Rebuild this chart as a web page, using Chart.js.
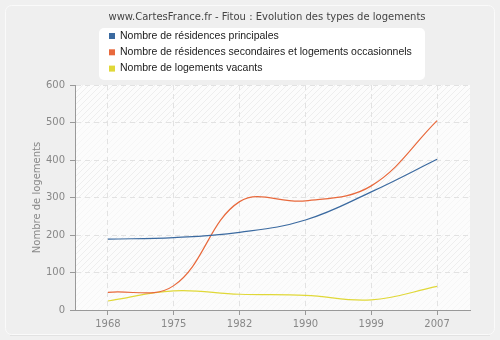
<!DOCTYPE html>
<html lang="fr">
<head>
<meta charset="UTF-8">
<title>Fitou : Evolution des types de logements</title>
<script src="https://cdn.jsdelivr.net/npm/chart.js"></script>
<style>
    html, body { margin: 0; padding: 0; background: #f0f0f0; }
    #graph { display: block; }
</style>
</head>
<body>
<canvas id="graph" width="500" height="340"></canvas>
<script>
    const annees = ['1968', '1975', '1982', '1990', '1999', '2007'];
    const principales = [189, 193, 207, 240, 315, 402];
    const secondaires = [47, 65, 289, 291, 331, 505];
    const vacants = [24, 51, 42, 39, 27, 63];
    const series = [
        'Nombre de résidences principales',
        'Nombre de résidences secondaires et logements occasionnels',
        'Nombre de logements vacants'
    ];
    const couleurs = ['#3b6aa0', '#e8693c', '#e0d838'];
    const titre = 'www.CartesFrance.fr - Fitou : Evolution des types de logements';

    const police = '"DejaVu Sans", Verdana, sans-serif';
    const policeLegende = '"Liberation Sans", Arial, sans-serif';

    function roundRect(ctx, x, y, w, h, r) {
        ctx.beginPath();
        ctx.moveTo(x + r, y);
        ctx.arcTo(x + w, y, x + w, y + h, r);
        ctx.arcTo(x + w, y + h, x, y + h, r);
        ctx.arcTo(x, y + h, x, y, r);
        ctx.arcTo(x, y, x + w, y, r);
        ctx.closePath();
    }

    // motif hachuré du fond de la zone de tracé
    function hachures(ctx) {
        const c = document.createElement('canvas');
        c.width = 6; c.height = 6;
        const g = c.getContext('2d');
        g.fillStyle = '#fcfcfc';
        g.fillRect(0, 0, 6, 6);
        g.strokeStyle = '#eeeeee';
        g.lineWidth = 1;
        g.beginPath();
        g.moveTo(-1, 7); g.lineTo(7, -1);
        g.moveTo(-1, 1); g.lineTo(1, -1);
        g.moveTo(5, 7); g.lineTo(7, 5);
        g.stroke();
        return ctx.createPattern(c, 'repeat');
    }

    const fond = {
        id: 'fond',
        beforeDraw(chart) {
            const ctx = chart.ctx;
            const a = chart.chartArea;
            const y = chart.scales.y;
            ctx.save();
            ctx.fillStyle = '#f0f0f0';
            ctx.fillRect(0, 0, chart.width, chart.height);
            // cadre arrondi
            roundRect(ctx, 5.5, 5.5, 489, 329, 6);
            ctx.fillStyle = '#efefef';
            ctx.fill();
            ctx.strokeStyle = '#fafafa';
            ctx.lineWidth = 1;
            ctx.stroke();
            ctx.beginPath();
            ctx.moveTo(10, 335.5); ctx.lineTo(490, 335.5);
            ctx.strokeStyle = '#e2e2e2';
            ctx.stroke();
            // zone de tracé : bandes hachurées / unies
            ctx.fillStyle = hachures(ctx);
            ctx.fillRect(a.left, a.top, a.right - a.left, a.bottom - a.top);
            ctx.fillStyle = 'rgba(252,252,252,0.6)';
            for (let v = 0; v < 600; v += 200) {
                const y0 = y.getPixelForValue(v + 100);
                const y1 = y.getPixelForValue(v);
                ctx.fillRect(a.left, y0, a.right - a.left, y1 - y0);
            }
            ctx.restore();
        },
        afterDraw(chart) {
            const ctx = chart.ctx;
            ctx.save();
            ctx.font = '10px ' + police;
            ctx.textBaseline = 'middle';
            ctx.fillStyle = '#444';
            ctx.textAlign = 'center';
            ctx.fillText(titre, 267, 17);
            // légende
            roundRect(ctx, 99, 28, 326, 52, 5);
            ctx.fillStyle = '#ffffff';
            ctx.fill();
            ctx.textAlign = 'left';
            ctx.font = '10.5px ' + policeLegende;
            series.forEach((nom, i) => {
                const yc = 36 + i * 16.3;
                ctx.fillStyle = couleurs[i];
                ctx.fillRect(109, yc - 3, 6, 6);
                ctx.fillStyle = '#1a1a1a';
                ctx.fillText(nom, 120, yc);
            });
            ctx.restore();
        }
    };

    const donnees = [principales, secondaires, vacants];
    const tensions = [0.4, 0.38, 0.4];

    new Chart(document.getElementById('graph'), {
        type: 'line',
        data: {
            labels: annees,
            datasets: series.map((nom, i) => ({
                label: nom,
                data: donnees[i],
                borderColor: couleurs[i],
                backgroundColor: couleurs[i],
                borderWidth: 1.2,
                pointRadius: 0,
                tension: tensions[i],
                fill: false
            }))
        },
        options: {
            responsive: false,
            animation: false,
            layout: { padding: { top: 85, left: 31, right: 30, bottom: 0 } },
            plugins: {
                legend: { display: false },
                title: { display: false },
                tooltip: { enabled: false }
            },
            scales: {
                x: {
                    offset: true,
                    afterFit(scale) { scale.height = 30; },
                    grid: {
                        offset: false,
                        color: '#e2e2e2',
                        tickColor: '#999',
                        tickLength: 5,
                        tickBorderDash: []
                    },
                    border: { color: '#999', width: 1, dash: [5, 4] },
                    ticks: {
                        color: '#888',
                        padding: 3,
                        font: { family: police, size: 10 },
                        maxRotation: 0
                    }
                },
                y: {
                    min: 0,
                    max: 600,
                    afterFit(scale) { scale.width = 44; },
                    grid: {
                        color: '#e2e2e2',
                        tickColor: '#999',
                        tickLength: 5,
                        tickBorderDash: []
                    },
                    border: { color: '#999', width: 1, dash: [5, 4] },
                    ticks: {
                        stepSize: 100,
                        color: '#888',
                        padding: 5,
                        font: { family: police, size: 10 }
                    },
                    title: {
                        display: true,
                        text: 'Nombre de logements',
                        color: '#888',
                        padding: { top: 0, bottom: 0 },
                        font: { family: police, size: 10 }
                    }
                }
            }
        },
        plugins: [fond]
    });
</script>
</body>
</html>
